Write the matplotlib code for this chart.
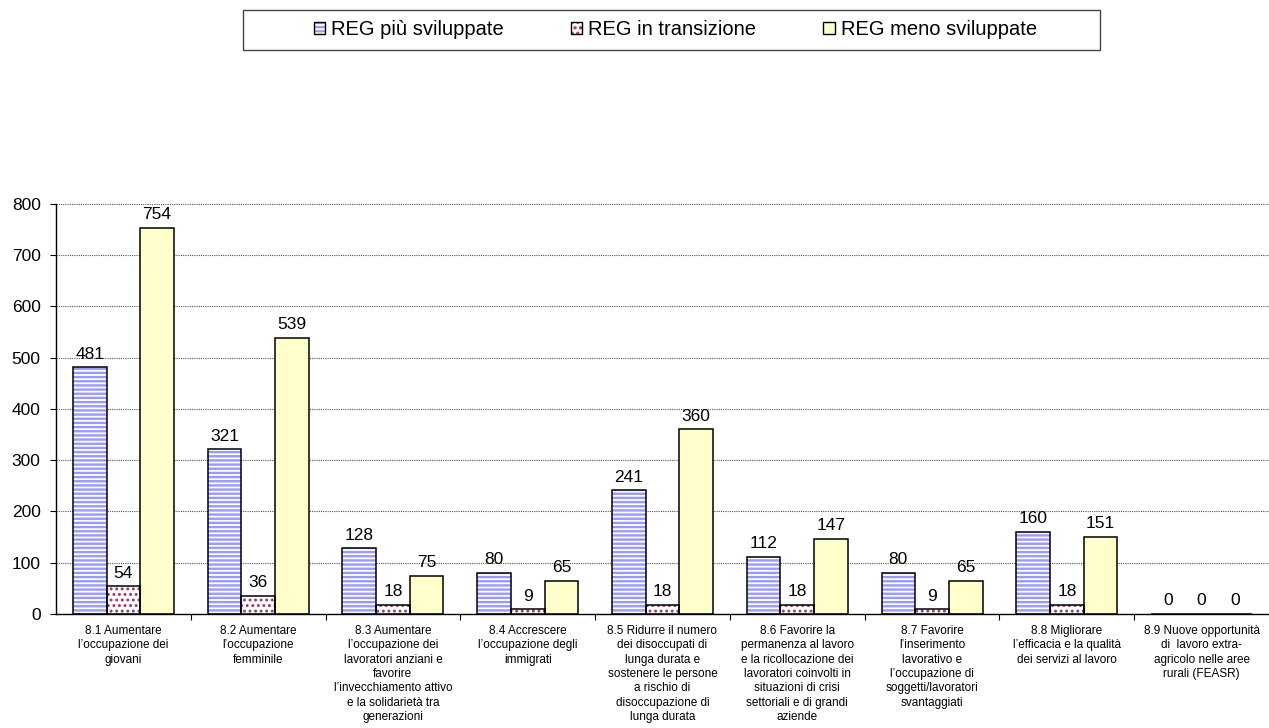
import numpy as np
import matplotlib
matplotlib.use('Agg')
import matplotlib.pyplot as plt
from matplotlib.patches import Rectangle
from matplotlib.ticker import FixedLocator

plt.rcParams['font.family'] = ['Liberation Sans', 'DejaVu Sans']
plt.rcParams['hatch.linewidth'] = 1.6

categories = [
    "8.1 Aumentare\nl\u2019occupazione dei\ngiovani",
    "8.2 Aumentare\nl\u2019occupazione\nfemminile",
    "8.3 Aumentare\nl\u2019occupazione dei\nlavoratori anziani e\nfavorire\nl\u2019invecchiamento attivo\ne la solidariet\u00e0 tra\ngenerazioni",
    "8.4 Accrescere\nl\u2019occupazione degli\nimmigrati",
    "8.5 Ridurre il numero\ndei disoccupati di\nlunga durata e\nsostenere le persone\na rischio di\ndisoccupazione di\nlunga durata",
    "8.6 Favorire la\npermanenza al lavoro\ne la ricollocazione dei\nlavoratori coinvolti in\nsituazioni di crisi\nsettoriali e di grandi\naziende",
    "8.7 Favorire\nl\u2019inserimento\nlavorativo e\nl\u2019occupazione di\nsoggetti/lavoratori\nsvantaggiati",
    "8.8 Migliorare\nl\u2019efficacia e la qualit\u00e0\ndei servizi al lavoro",
    "8.9 Nuove opportunit\u00e0\ndi  lavoro extra-\nagricolo nelle aree\nrurali (FEASR)",
]
series_names = ["REG pi\u00f9 sviluppate", "REG in transizione", "REG meno sviluppate"]
reg_piu = [481, 321, 128, 80, 241, 112, 80, 160, 0]
reg_trans = [54, 36, 18, 9, 18, 18, 9, 18, 0]
reg_meno = [754, 539, 75, 65, 360, 147, 65, 151, 0]
yticks = [0, 100, 200, 300, 400, 500, 600, 700, 800]

# face, hatch, hatch colour, hatch width for each series
styles = [
    ('white', '----', '#9999ff', 1.7),
    ('white', '...', '#993366', 1.3),
    ('#ffffcc', None, '#ffffcc', 1.0),
]

fig = plt.figure(figsize=(12.69, 7.28), dpi=100)
ax = fig.add_axes([0.0441, 0.1566, 0.9559, 0.5632])

x = np.arange(len(categories))
w = 0.25
handles = []
for i, (vals, name) in enumerate(zip([reg_piu, reg_trans, reg_meno], series_names)):
    fc, hatch, hc, hlw = styles[i]
    pos = x + (i - 1) * w
    # fill + pattern first, then the black outline on top
    fills = ax.bar(pos, vals, w, color=fc, hatch=hatch, edgecolor=hc, linewidth=0, zorder=2)
    outline = ax.bar(pos, vals, w, fill=False, edgecolor='black', linewidth=1.1, zorder=3)
    ax.bar_label(outline, labels=[str(v) for v in vals], padding=4, fontsize=12.5)
    h_fill = Rectangle((0, 0), 1, 1, facecolor=fc, hatch=hatch, edgecolor=hc, linewidth=0)
    h_edge = Rectangle((0, 0), 1, 1, fill=False, edgecolor='black', linewidth=1.0)
    for p in list(fills) + [h_fill]:
        if hasattr(p, 'set_hatch_linewidth'):
            p.set_hatch_linewidth(hlw)
    handles.append((h_fill, h_edge))

ax.set_xlim(-0.5, len(categories) - 0.5)
ax.set_ylim(0, 800)
ax.set_yticks(yticks)
ax.tick_params(axis='y', labelsize=12.5, direction='out', length=4, width=0.8, pad=7)
ax.set_xticks(x)
ax.set_xticklabels(categories, fontsize=8.5, linespacing=1.26)
ax.tick_params(axis='x', which='major', length=0, pad=8)
ax.xaxis.set_minor_locator(FixedLocator(np.arange(0.5, len(categories) - 1, 1.0)))
ax.tick_params(axis='x', which='minor', length=4, width=0.8, direction='out')
ax.yaxis.grid(True, linestyle=(0, (1, 1)), color='#555555', linewidth=0.8, zorder=0)
ax.set_axisbelow(True)
for s in ['top', 'right']:
    ax.spines[s].set_visible(False)
ax.spines['left'].set_linewidth(1.0)
ax.spines['bottom'].set_linewidth(1.0)

leg = fig.legend(handles, series_names, loc='center', bbox_to_anchor=(0.532, 0.959),
                 ncol=3, frameon=False, fontsize=14.5, handlelength=0.55,
                 handleheight=0.55, handletextpad=0.3, columnspacing=3.35)
fig.patches.append(Rectangle((243 / 1269, 1 - 50 / 728), (1100 - 243) / 1269, 40 / 728,
                             transform=fig.transFigure, fill=False,
                             edgecolor='#444444', linewidth=1.0))

fig.savefig('out.png', dpi=100)
